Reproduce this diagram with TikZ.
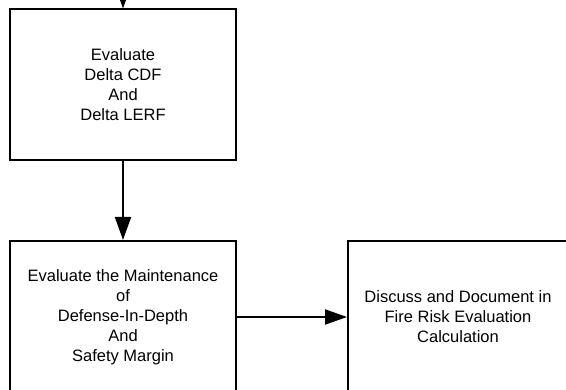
\documentclass[tikz,border=0pt]{standalone}
\usepackage{fontspec}
\setmainfont{Liberation Sans}
\usetikzlibrary{arrows.meta}
\begin{document}
\begin{tikzpicture}[x=1pt,y=1pt,
  box/.style={draw=black, line width=2pt, inner sep=0pt, align=center,
    font=\fontsize{16.5}{20}\selectfont},
  arr/.style={line width=2pt, -{Triangle[length=23pt,width=16pt]}},
  harr/.style={line width=2pt, -{Triangle[length=22pt,width=15pt]}}]
\useasboundingbox (0,0) rectangle (566,-390);
\node[box, minimum width=226, minimum height=150.5] (b1) at (123,-84.75)
  {Evaluate\\Delta CDF\\And\\Delta LERF};
\node[box, minimum width=226, minimum height=152] (b2) at (123,-317)
  {Evaluate the Maintenance\\of\\Defense-In-Depth\\And\\Safety Margin};
\node[box, minimum width=220, minimum height=152] (b3) at (458,-317)
  {Discuss and Document in\\Fire Risk Evaluation\\Calculation};
\coordinate (start) at (123,30);
\draw[arr] (start) -- (b1.north);
\draw[arr] (b1.south) -- (b2.north);
\draw[harr] (b2.east) -- (b3.west);
\end{tikzpicture}
\end{document}
